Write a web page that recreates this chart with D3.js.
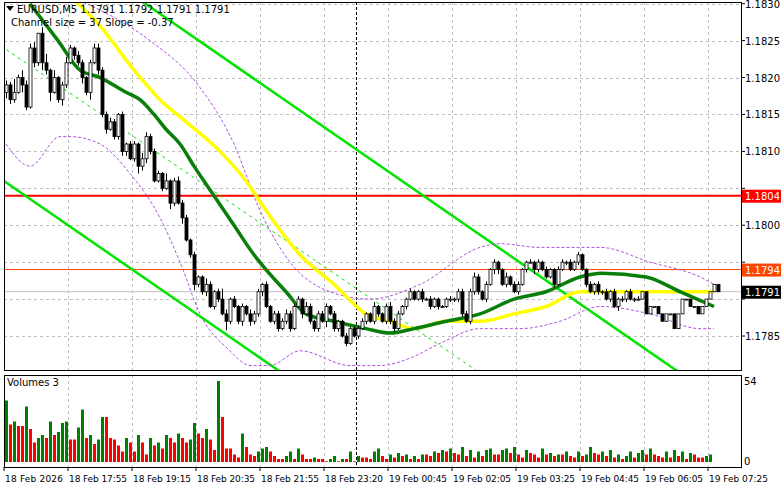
<!DOCTYPE html>
<html><head><meta charset="utf-8">
<script src="https://cdn.jsdelivr.net/npm/d3@7"></script>
<style>body{margin:0;background:#fff}svg{display:block}text{font-family:"DejaVu Sans",sans-serif;font-size:10px}</style>
</head><body><svg id="c" width="781" height="489"></svg>
<script>
const closes=[1.1819,1.1817,1.1818,1.1820,1.1819,1.1816,1.1824,1.1822,1.1826,1.1822,1.1821,1.1818,1.1820,1.1817,1.1819,1.1822,
1.1824,1.1823,1.1822,1.1820,1.1818,1.1822,1.1824,1.1821,1.1815,1.1813,1.1814,1.1812,1.1815,1.1810,1.1811,1.1809,
1.1811,1.1808,1.1809,1.1812,1.1810,1.1806,1.1807,1.1805,1.1806,1.1803,1.1806,1.1803,1.1801,1.1798,1.1796,1.1792,
1.1793,1.1791,1.1792,1.1789,1.1791,1.1790,1.1788,1.1787,1.1790,1.1789,1.1787,1.1789,1.1788,1.1787,1.1788,1.1791,
1.1792,1.1789,1.1787,1.1788,1.1786,1.1787,1.1788,1.1786,1.1789,1.1790,1.1788,1.1789,1.1787,1.1786,1.1788,1.1787,
1.1789,1.1788,1.1786,1.1787,1.1785,1.1784,1.1786,1.1785,1.1786,1.1787,1.1788,1.1787,1.1789,1.1788,1.1787,1.1789,
1.1787,1.1786,1.1788,1.1789,1.1790,1.1791,1.1790,1.1791,1.1790,1.1790,1.1789,1.1790,1.1789,1.1789,1.1790,1.1790,
1.1790,1.1791,1.1788,1.1787,1.1791,1.1793,1.1791,1.1790,1.1792,1.1794,1.1795,1.1794,1.1792,1.1793,1.1792,1.1791,
1.1792,1.1794,1.1795,1.1795,1.1794,1.1795,1.1794,1.1793,1.1794,1.1792,1.1794,1.1795,1.1795,1.1794,1.1795,1.1796,
1.1794,1.1792,1.1791,1.1792,1.1791,1.1791,1.1790,1.1791,1.1789,1.1790,1.1790,1.1791,1.1790,1.1790,1.1790,1.1791,
1.1788,1.1789,1.1789,1.1788,1.1787,1.1788,1.1788,1.1786,1.1788,1.1790,1.1790,1.1789,1.1789,1.1788,1.1789,1.1790,
1.1791,1.1792,1.1791];
const firstOpen=1.1818;
// wick sizes, digit units of 0.00002
const wickUp="3292533404615124213212332232121221432221512322121142127312121322121222322213212221211212221131123221121121211112122223212121131221121212112212121121212121212120";
const wickDn="4321521325361242132425132312233125332112142141242231221621231322311221221131222141221211212122122211211121212112222122212133121121213211121121121212221213221210";
const volumes=[41,25,27,24,24,37,22,13,16,18,16,27,18,20,26,27,15,15,23,35,16,18,12,15,30,30,16,15,11,7,16,13,7,18,13,5,16,11,13,9,18,16,13,19,16,13,15,26,19,16,22,15,8,54,30,9,9,5,3,19,10,5,4,7,9,10,7,4,2,2,4,7,2,9,5,2,2,3,2,2,0.5,2,4,0.5,2,2,7,0.5,4,3,3,2,7,9,4,2,5,3,6,4,5,2,4,2,5,5,4,7,6,8,7,9,6,5,10,4,8,3,7,4,8,9,5,5,8,9,6,10,5,3,8,6,5,3,9,5,6,4,5,5,7,4,3,7,4,5,10,6,5,7,4,8,3,5,2,4,7,3,6,8,5,9,5,4,3,7,3,8,4,7,2,6,5,3,3,4,5];
const priceTicks=[1.1830,1.1825,1.1820,1.1815,1.1810,1.1805,1.1800,1.1795,1.1790,1.1785];
const timeLabels=["18 Feb 2026","18 Feb 17:55","18 Feb 19:15","18 Feb 20:35","18 Feb 21:55","18 Feb 23:20","19 Feb 00:45","19 Feb 02:05","19 Feb 03:25","19 Feb 04:45","19 Feb 06:05","19 Feb 07:25"];
const maGreen=[[6,1.1830],[13,1.1825],[18.5,1.1821],[23.5,1.1820],[30,1.1818],[33.5,1.1817],[37,1.1815],[40,1.1813],[43.5,1.1811],[47,1.1808],[52,1.1804],[57,1.1800],[62,1.1796],[65,1.1794],[70,1.1791],[75,1.1788],[82,1.1787],[90,1.1786],[96,1.17854],[102,1.1786],[110,1.1787],[118.5,1.1788],[127,1.1790],[135,1.1791],[143.5,1.1793],[149,1.17935],[160,1.1793],[168.5,1.1791],[177,1.1789]];
const maYellow=[[14,1.1832],[23.5,1.1827],[32,1.1821],[38.5,1.1817],[45,1.1814],[53.5,1.1810],[60,1.1806],[65,1.1802],[73.5,1.1796],[82,1.1792],[90,1.1788],[96,1.1787],[102,1.1786],[110,1.1787],[118.5,1.1787],[127,1.1788],[135,1.1789],[143.5,1.1791],[152,1.1791],[160,1.1791],[168.5,1.1791],[177,1.1791]];
const bandUp=[[0,1.1833],[24,1.1829],[36,1.1825],[48,1.1819],[57,1.1811],[63.5,1.1802],[71,1.1795],[81,1.1791],[91,1.1790],[103.5,1.1792],[118.5,1.1797],[123.5,1.17975],[133.5,1.1797],[148.5,1.1797],[161,1.1795],[173.5,1.1793],[177,1.1792]];
const bandDn=[[0,1.1811],[6,1.1808],[13.5,1.1812],[16,1.1812],[23.5,1.1811],[31,1.1807],[38.5,1.1801],[43.5,1.1795],[48.5,1.1788],[56,1.1783],[61,1.1781],[66,1.1781],[73.5,1.1783],[86,1.1781],[93.5,1.1781],[101,1.1782],[108.5,1.1784],[118.5,1.1786],[128.5,1.1786],[138.5,1.1787],[148.5,1.1789],[161,1.1788],[173.5,1.1786],[177,1.1786]];
const chanUpper=[[33.5,1.18305],[168.5,1.1780]];
const chanLower=[[-0.5,1.1806],[69,1.1780]];
const chanMid=[[-0.5,1.1824],[118.5,1.1780]];
const levels=[{p:1.1804,c:"#ff0000",t:"#fff"},{p:1.1794,c:"#ff4500",t:"#fff"},{p:1.1791,c:"#000",t:"#fff"}];

const svg=d3.select("#c");
const X0=4,X1=741,Y0=2,Y1=370,V0=375,V1=467;
const x=d3.scaleLinear().domain([-0.5,183.75]).range([X0,X1]);
const y=d3.scaleLinear().domain([1.18305,1.17804]).range([0,370]);
const vy=d3.scaleLinear().domain([0,54]).range([462,381]);
const opens=closes.map((c,i)=>i?closes[i-1]:firstOpen);
const highs=closes.map((c,i)=>Math.max(c,opens[i])+(+wickUp[i]||0)*0.00002);
const lows=closes.map((c,i)=>Math.min(c,opens[i])-(+wickDn[i]||0)*0.00002);

svg.append("defs").append("clipPath").attr("id","cp").append("rect").attr("x",X0).attr("y",Y0).attr("width",X1-X0).attr("height",Y1-Y0);
const grid=svg.append("g").attr("stroke","#c0c0c0").attr("stroke-dasharray","3,3");
d3.range(0,12).forEach(k=>{const xx=Math.round(x(k*16-0.5))+0.5;grid.append("line").attr("x1",xx).attr("x2",xx).attr("y1",Y0).attr("y2",Y1);grid.append("line").attr("x1",xx).attr("x2",xx).attr("y1",V0).attr("y2",V1);});
priceTicks.forEach(p=>{const yy=Math.round(y(p))+0.5;grid.append("line").attr("x1",X0).attr("x2",X1).attr("y1",yy).attr("y2",yy);});
svg.append("line").attr("x1",356.5).attr("x2",356.5).attr("y1",Y0).attr("y2",V1).attr("stroke","#000").attr("stroke-dasharray","3,2");
const g=svg.append("g").attr("clip-path","url(#cp)");
levels.forEach(l=>g.append("line").attr("x1",X0).attr("x2",X1).attr("y1",y(l.p)).attr("y2",y(l.p)).attr("stroke",l.p==1.1791?"#c0c0c0":l.c).attr("stroke-width",l.p==1.1804?2:1));
const ext=(pts,dash,w)=>{const [a,b]=pts;const s=(b[1]-a[1])/(b[0]-a[0]);const f=i=>a[1]+s*(i-a[0]);
 g.append("line").attr("x1",x(-10)).attr("y1",y(f(-10))).attr("x2",x(200)).attr("y2",y(f(200))).attr("stroke","#00e400").attr("stroke-width",w).attr("stroke-dasharray",dash);};
ext(chanUpper,null,2.5);ext(chanLower,null,2.5);ext(chanMid,"3,4",1);
const line=d3.line().x(d=>x(d[0])).y(d=>y(d[1])).curve(d3.curveMonotoneX);
g.append("path").attr("d",line(bandUp)).attr("fill","none").attr("stroke","#b050e0").attr("stroke-dasharray","3,2");
g.append("path").attr("d",line(bandDn)).attr("fill","none").attr("stroke","#b050e0").attr("stroke-dasharray","3,2");
g.append("path").attr("d",line(maYellow)).attr("fill","none").attr("stroke","#ffff00").attr("stroke-width",3.5);
g.append("path").attr("d",line(maGreen)).attr("fill","none").attr("stroke","#087f08").attr("stroke-width",3.5);
closes.forEach((c,i)=>{const cx=Math.round(x(i))+0.5;
 g.append("line").attr("x1",cx).attr("x2",cx).attr("y1",y(highs[i])).attr("y2",y(lows[i])).attr("stroke","#000");
 const t=Math.min(y(c),y(opens[i])),h=Math.max(1,Math.abs(y(c)-y(opens[i])));
 g.append("rect").attr("x",cx-1.5).attr("y",t).attr("width",3).attr("height",h).attr("fill",c>=opens[i]?"#fff":"#000").attr("stroke","#000").attr("stroke-width",0.8);
});
volumes.forEach((v,i)=>{svg.append("rect").attr("x",Math.round(x(i))-1).attr("width",3).attr("y",vy(v)).attr("height",462-vy(v)).attr("fill",i==0||v>volumes[i-1]?"#008000":"#ff0000");});
svg.append("rect").attr("x",X0+0.5).attr("y",Y0+0.5).attr("width",X1-X0).attr("height",Y1-Y0).attr("fill","none").attr("stroke","#000");
svg.append("rect").attr("x",X0+0.5).attr("y",V0+0.5).attr("width",X1-X0).attr("height",V1-V0).attr("fill","none").attr("stroke","#000");
priceTicks.forEach(p=>{const yy=y(p);svg.append("line").attr("x1",X1).attr("x2",X1+4).attr("y1",yy).attr("y2",yy).attr("stroke","#000");
 if(levels.some(l=>Math.abs(y(l.p)-yy)<12))return;
 svg.append("text").attr("x",745).attr("y",yy+4).text(p.toFixed(4));});
levels.forEach(l=>{const yy=y(l.p);svg.append("rect").attr("x",X1+1).attr("y",yy-6).attr("width",40).attr("height",13).attr("fill",l.c);
 svg.append("text").attr("x",745).attr("y",yy+4).attr("fill",l.t).text(l.p.toFixed(4));});
svg.append("text").attr("x",744).attr("y",385).text("54");
svg.append("text").attr("x",744).attr("y",465).text("0");
timeLabels.forEach((t,k)=>{const xx=x(k*16-0.5);svg.append("line").attr("x1",xx).attr("x2",xx).attr("y1",V1).attr("y2",V1+4).attr("stroke","#000");
 const tx=svg.append("text").attr("x",xx+1).attr("y",482).style("font-size","9px").text(t); if(k<11)tx.attr("textLength",58);});
svg.append("path").attr("d","M6,6 L14,6 L10,11 Z").attr("fill","#000");
svg.append("text").attr("x",17).attr("y",13).text("EURUSD,M5  1.1791 1.1792 1.1791 1.1791");
svg.append("text").attr("x",11).attr("y",26).text("Channel size = 37 Slope = -0.37");
svg.append("text").attr("x",7).attr("y",386).text("Volumes 3");
</script></body></html>
